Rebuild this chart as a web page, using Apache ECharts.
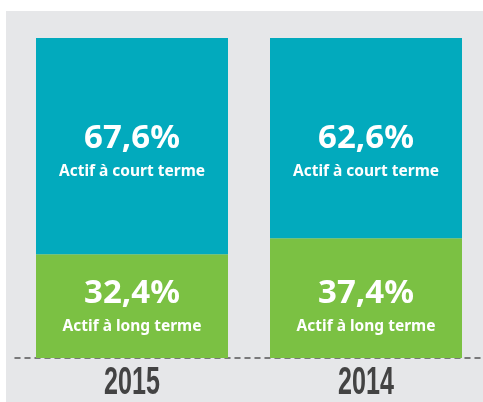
<!DOCTYPE html>
<html>
<head>
<meta charset="utf-8">
<script src="https://cdn.jsdelivr.net/npm/echarts@6/dist/echarts.min.js"></script>
<style>
html,body{margin:0;padding:0;background:#fff;}
#main{width:483px;height:402px;}
</style>
</head>
<body>
<div id="main"></div>
<script>
var years = ['2015', '2014'];
var longTerme = [32.4, 37.4];
var courtTerme = [67.6, 62.6];
var longName = 'Actif à long terme';
var courtName = 'Actif à court terme';

function fmt(v){
    return v.toFixed(1).replace('.', ',') + '%';
}

var myChart = echarts.init(document.getElementById('main'));

var labelRich = {
    p: {fontSize: 33, fontWeight: 'bold', color: '#fff', fontFamily: 'Noto Sans', lineHeight: 40},
    s: {fontSize: 15.5, fontWeight: 'bold', color: '#fff', fontFamily: 'Noto Sans', lineHeight: 26}
};

var option = {
    animation: false,
    graphic: [{
        id: 'bg',
        type: 'rect',
        silent: true,
        z: -10,
        shape: {x: 6, y: 11, width: 477, height: 391},
        style: {fill: '#e6e7e9'}
    }],
    grid: {left: 15, right: 0, top: 38, bottom: 44},
    xAxis: {
        type: 'category',
        data: years,
        axisTick: {show: false},
        axisLine: {
            show: true,
            lineStyle: {color: '#555', width: 1.5, type: [5, 5]}
        },
        // year labels are drawn below as narrowed text
        axisLabel: {show: false}
    },
    yAxis: {
        type: 'value',
        min: 0,
        max: 100,
        show: false
    },
    series: [
        {
            name: longName,
            type: 'bar',
            stack: 'total',
            barWidth: 192,
            data: longTerme,
            itemStyle: {color: '#7bc143'},
            label: {
                show: true,
                position: 'insideBottom',
                distance: 18,
                formatter: function(p){ return '{p|' + fmt(p.value) + '}\n{s|' + longName + '}'; },
                rich: labelRich
            }
        },
        {
            name: courtName,
            type: 'bar',
            stack: 'total',
            barWidth: 192,
            data: courtTerme,
            itemStyle: {color: '#02aabd'},
            label: {
                show: true,
                position: 'insideTop',
                distance: 81,
                formatter: function(p){ return '{p|' + fmt(p.value) + '}\n{s|' + courtName + '}'; },
                rich: labelRich
            }
        }
    ]
};
myChart.setOption(option);

// condensed year labels under each bar
var yearTexts = years.map(function(y, i){
    var px = myChart.convertToPixel({xAxisIndex: 0}, y);
    return {
        id: 'year' + i,
        type: 'text',
        x: px,
        y: 384,
        scaleX: 0.66,
        style: {
            text: y,
            fontSize: 38,
            fontWeight: 'bold',
            fontFamily: 'Liberation Sans',
            fill: '#434343',
            align: 'center',
            verticalAlign: 'middle'
        }
    };
});
myChart.setOption({graphic: yearTexts});
</script>
</body>
</html>
